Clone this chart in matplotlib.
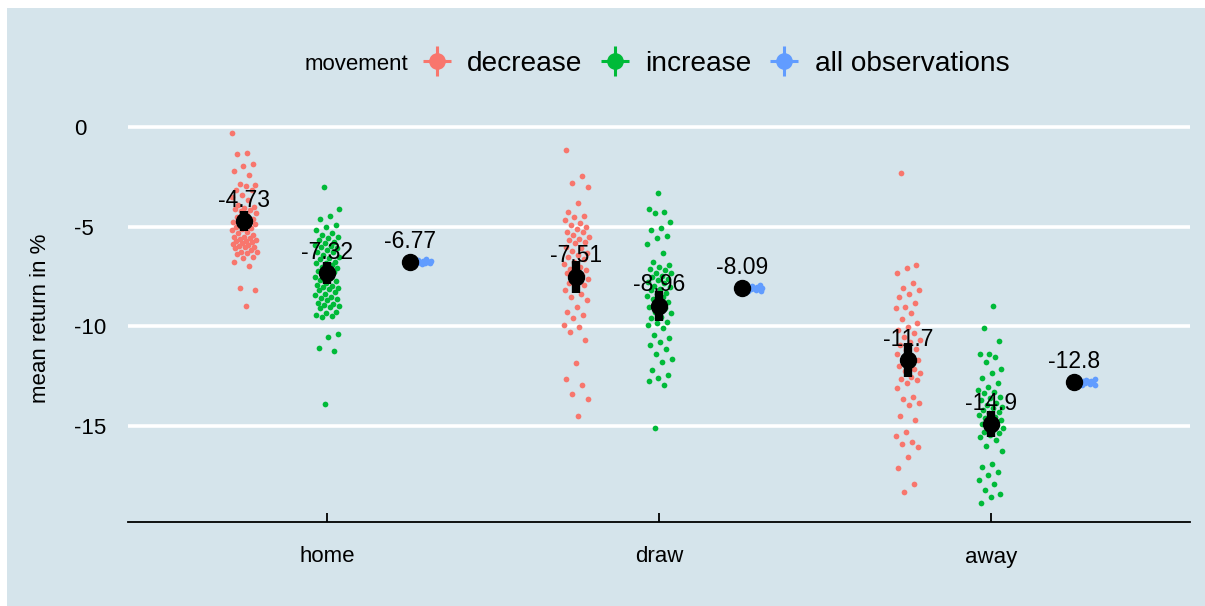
import numpy as np
import matplotlib
matplotlib.use("Agg")
import matplotlib.pyplot as plt
from matplotlib.lines import Line2D
from matplotlib.patches import Rectangle
from matplotlib.legend_handler import HandlerTuple

plt.rcParams["font.family"] = ["Liberation Sans", "DejaVu Sans"]

# ---- data -------------------------------------------------------------
outcomes = ["home", "draw", "away"]
groups = ["decrease", "increase", "all observations"]
colors = {"decrease": "#F8766D", "increase": "#00BA38", "all observations": "#619CFF"}

home_decrease = [-0.32, -1.32, -1.37, -1.87, -1.96, -2.19, -2.41, -2.88, -2.91, -2.94,
                 -3.16, -3.18, -3.41, -3.53, -3.66, -3.91, -4.0, -4.08, -4.1, -4.16,
                 -4.2, -4.33, -4.42, -4.5, -4.63, -4.66, -4.75, -4.78, -4.83, -4.86,
                 -4.92, -5.0, -5.08, -5.1, -5.17, -5.25, -5.33, -5.42, -5.5, -5.52,
                 -5.59, -5.62, -5.67, -5.7, -5.72, -5.75, -5.84, -5.88, -5.92, -5.95,
                 -6.0, -6.03, -6.09, -6.17, -6.25, -6.28, -6.34, -6.37, -6.51, -6.59,
                 -6.76, -6.97, -8.09, -8.18, -8.96]
home_increase = [-3.0, -4.11, -4.47, -4.63, -4.92, -5.0, -5.17, -5.3, -5.42, -5.5,
                 -5.59, -5.67, -5.75, -5.84, -5.92, -5.95, -6.0, -6.09, -6.17, -6.25,
                 -6.28, -6.42, -6.51, -6.59, -6.62, -6.76, -6.8, -6.84, -6.92, -7.01,
                 -7.09, -7.18, -7.2, -7.26, -7.34, -7.51, -7.59, -7.68, -7.7, -7.84,
                 -7.93, -7.96, -8.01, -8.09, -8.12, -8.18, -8.26, -8.35, -8.43, -8.51,
                 -8.55, -8.6, -8.68, -8.85, -8.88, -8.93, -8.97, -9.02, -9.1, -9.27,
                 -9.35, -9.43, -9.46, -9.52, -10.39, -10.55, -11.1, -11.22, -13.87]
home_all = [-6.62, -6.66, -6.7, -6.72, -6.74, -6.76, -6.77, -6.78, -6.8, -6.82,
            -6.84, -6.86, -6.9, -6.73, -6.79, -6.81]

draw_decrease = [-1.15, -2.46, -2.79, -2.99, -3.8, -4.25, -4.45, -4.53, -4.64, -4.8,
                 -4.9, -5.03, -5.1, -5.25, -5.28, -5.4, -5.5, -5.6, -5.67, -5.75,
                 -5.84, -6.0, -6.09, -6.2, -6.34, -6.4, -6.51, -6.6, -6.76, -6.85,
                 -7.01, -7.1, -7.18, -7.25, -7.34, -7.42, -7.51, -7.6, -7.68, -7.8,
                 -7.93, -8.05, -8.18, -8.35, -8.5, -8.68, -9.02, -9.27, -9.43, -9.6,
                 -9.93, -10.02, -10.27, -10.69, -11.81, -12.66, -12.95, -13.4, -13.66, -14.5]
draw_increase = [-3.3, -4.13, -4.25, -4.33, -4.75, -5.08, -5.17, -5.47, -5.58, -5.87,
                 -6.34, -6.76, -6.92, -7.01, -7.1, -7.18, -7.3, -7.34, -7.45, -7.51,
                 -7.6, -7.68, -7.75, -7.84, -7.95, -8.01, -8.1, -8.18, -8.3, -8.35,
                 -8.45, -8.51, -8.6, -8.77, -8.85, -9.02, -9.1, -9.27, -9.35, -9.52,
                 -9.6, -9.77, -9.85, -9.93, -10.1, -10.44, -10.6, -10.77, -10.94, -11.11,
                 -11.36, -11.61, -11.78, -12.19, -12.44, -12.61, -12.73, -12.95, -15.09]
draw_all = [-7.94, -7.98, -8.01, -8.03, -8.05, -8.07, -8.09, -8.1, -8.11, -8.13,
            -8.15, -8.17, -8.2, -8.24, -8.06, -8.12]

away_decrease = [-2.32, -6.92, -7.09, -7.31, -7.84, -8.09, -8.18, -8.35, -8.51, -8.85,
                 -9.02, -9.1, -9.35, -9.65, -9.85, -10.02, -10.19, -10.35, -10.52, -10.69,
                 -10.8, -10.94, -11.11, -11.2, -11.36, -11.5, -11.61, -11.7, -11.86, -12.0,
                 -12.11, -12.25, -12.36, -12.53, -12.66, -12.7, -12.83, -13.11, -13.53, -13.66,
                 -13.86, -13.94, -14.5, -14.7, -15.29, -15.51, -15.79, -15.87, -16.04, -16.54,
                 -17.1, -17.88, -18.3]
away_increase = [-8.97, -10.1, -10.72, -11.36, -11.4, -11.53, -11.78, -12.11, -12.36, -12.61,
                 -12.86, -13.03, -13.2, -13.3, -13.36, -13.53, -13.6, -13.7, -13.86, -13.95,
                 -14.03, -14.1, -14.2, -14.3, -14.36, -14.45, -14.53, -14.6, -14.7, -14.8,
                 -14.87, -14.95, -15.03, -15.1, -15.2, -15.3, -15.36, -15.45, -15.53, -15.7,
                 -16.0, -16.24, -16.91, -17.04, -17.29, -17.46, -17.71, -17.88, -18.21, -18.38,
                 -18.55, -18.85]
away_all = [-12.64, -12.68, -12.72, -12.74, -12.76, -12.78, -12.79, -12.8, -12.81, -12.83,
            -12.85, -12.88, -12.92, -12.96, -12.75, -12.84]

points = {
    "home": {"decrease": home_decrease, "increase": home_increase, "all observations": home_all},
    "draw": {"decrease": draw_decrease, "increase": draw_increase, "all observations": draw_all},
    "away": {"decrease": away_decrease, "increase": away_increase, "all observations": away_all},
}

# group means with their confidence bounds (decrease, increase, all observations)
mean_home = [-4.73, -7.32, -6.77]
mean_draw = [-7.51, -8.96, -8.09]
mean_away = [-11.7, -14.9, -12.8]
low_home = [-5.23, -7.87, -6.92]
high_home = [-4.23, -6.77, -6.62]
low_draw = [-8.31, -9.71, -8.24]
high_draw = [-6.71, -8.21, -7.94]
low_away = [-12.55, -15.55, -12.95]
high_away = [-10.85, -14.25, -12.65]

means = {"home": mean_home, "draw": mean_draw, "away": mean_away}
lows = {"home": low_home, "draw": low_draw, "away": low_away}
highs = {"home": high_home, "draw": high_draw, "away": high_away}

# ---- figure -----------------------------------------------------------
BG = "#d5e4eb"
W, H = 1205, 606
fig = plt.figure(figsize=(W / 100, H / 100), dpi=100, facecolor="white")
fig.patches.append(Rectangle((7 / W, 0), 1 - 7 / W, 1 - 8 / H, transform=fig.transFigure,
                             facecolor=BG, edgecolor="none", zorder=-10))

ax = fig.add_axes([128 / W, 1 - 521.5 / H, 1062 / W, (521.5 - 114.4) / H])
ax.set_facecolor(BG)
ax.set_xlim(0.4, 3.6)
ax.set_ylim(-19.78, 0.63)

dodge = [-0.25, 0.0, 0.25]
golden = 0.6180339887

for ci, outcome in enumerate(outcomes):
    center = ci + 1
    for gi, grp in enumerate(groups):
        ys = np.asarray(points[outcome][grp])
        idx = np.arange(len(ys))
        frac = (idx * golden + 0.37 * gi + 0.11 * ci) % 1.0
        if grp == "all observations":
            xoff = frac * 0.065
        else:
            xoff = (frac * 2 - 1) * 0.038
        ax.scatter(center + dodge[gi] + xoff, ys, s=17, color=colors[grp],
                   linewidths=0, zorder=3)

for ci, outcome in enumerate(outcomes):
    center = ci + 1
    for gi, grp in enumerate(groups):
        x = center + dodge[gi]
        m = means[outcome][gi]
        ax.plot([x, x], [lows[outcome][gi], highs[outcome][gi]], color="black",
                lw=6, solid_capstyle="butt", zorder=4)
        ax.plot([x], [m], "o", color="black", ms=11.5, zorder=5)
        ax.text(x, m + 1.05, f"{m:g}", ha="center", va="center", fontsize=16.5,
                color="black", zorder=6)

# grid and axes
ax.set_yticks([0, -5, -10, -15])
ax.set_yticklabels(["0", "-5", "-10", "-15"])
ax.grid(axis="y", color="white", lw=2.6, zorder=0)
ax.set_axisbelow(True)
ax.set_xticks([1, 2, 3])
ax.set_xticklabels(outcomes)
for s in ["top", "right", "left"]:
    ax.spines[s].set_visible(False)
ax.spines["bottom"].set_color("black")
ax.spines["bottom"].set_linewidth(1.3)
ax.tick_params(axis="x", direction="in", length=6.5, width=1.3, pad=18, labelsize=16,
               colors="black")
ax.tick_params(axis="y", length=0, pad=38.9, labelsize=16, colors="black")
for lab in ax.get_yticklabels():
    lab.set_horizontalalignment("left")

fig.text(40.5 / W, 1 - 318 / H, "mean return in %", rotation=90, ha="center",
         va="center", fontsize=16)

# legend
handles = []
for grp in groups:
    c = colors[grp]
    handles.append((Line2D([], [], marker="|", ms=22, mew=2.2, color=c, ls="none"),
                    Line2D([], [], marker="_", ms=20, mew=2.2, color=c, ls="none"),
                    Line2D([], [], marker="o", ms=11, color=c, ls="none")))
fig.text(305 / W, 1 - 64 / H, "movement", ha="left", va="center", fontsize=16)
fig.legend(handles, groups, handler_map={tuple: HandlerTuple(ndivide=1)},
           loc="center left", bbox_to_anchor=(423 / W, 1 - 64 / H),
           bbox_transform=fig.transFigure, ncol=3, frameon=False, fontsize=20.2,
           handlelength=1.0, handletextpad=0.58, columnspacing=0.66,
           borderpad=0, borderaxespad=0)

fig.savefig("out.png", dpi=100, facecolor="white")
